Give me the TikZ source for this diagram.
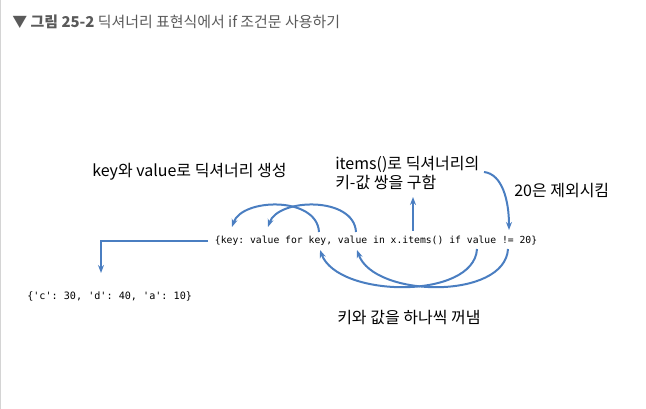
\documentclass[tikz,border=0pt]{standalone}
\usepackage{fontspec}
\setmainfont{Noto Sans CJK KR}
\setmonofont{DejaVu Sans Mono}
\usepackage{tikz}
\usetikzlibrary{arrows.meta, positioning, calc}
\definecolor{ArrowBlue}{RGB}{74,126,193}
\definecolor{TitleGray}{RGB}{90,90,90}
\definecolor{EdgeGray}{RGB}{212,212,212}

\begin{document}
\begin{tikzpicture}[x=0.75pt, y=-0.75pt,
    arr/.style={-{Stealth[length=6pt, width=4.5pt]}, ArrowBlue, line width=1.5pt},
    codetxt/.style={font=\fontsize{7.3}{9}\selectfont\ttfamily, inner ysep=0pt},
    note/.style={font=\fontsize{12}{14.25}\selectfont, inner sep=0pt,
                 anchor=west, align=left}]
  \useasboundingbox (0,0) rectangle (646,409);
  \draw[EdgeGray, line width=1.2pt] (0.6,0) -- (0.6,409);
  % title
  \node[anchor=west, inner sep=0pt, text=TitleGray,
        font=\fontsize{11.2}{13}\selectfont] (title) at (12,22)
        {\textbf{▼ 그림 25-2} 딕셔너리 표현식에서 if 조건문 사용하기};
  % code line and its result
  \node[codetxt, inner xsep=5pt, anchor=west] (code) at (208,241)
        {\{key: value for key, value in x.items() if value != 20\}};
  \node[codetxt, font=\fontsize{7.6}{9}\selectfont\ttfamily, inner xsep=0pt,
        anchor=west] (result) at (27,296) {\{'c': 30, 'd': 40, 'a': 10\}};
  % notes
  \node[note] (mkdict) at (92,172) {key와 value로 딕셔너리 생성};
  \node[note] (pairs) at (335,173.5) {items()로 딕셔너리의\\키-값 쌍을 구함};
  \node[note] (skip) at (514,191) {20은 제외시킴};
  \node[note] (takeout) at (337,318) {키와 값을 하나씩 꺼냄};
  % points on the code line
  \coordinate (keyA) at (232,227);
  \coordinate (valA) at (268,227);
  \coordinate (keyB) at (319,232);
  \coordinate (valB) at (356,232);
  \coordinate (keyBlow) at (320,250);
  \coordinate (valBlow) at (357,250);
  \coordinate (itemsTop) at (413,231);
  \coordinate (itemsTip) at (413,197);
  \coordinate (valC) at (477,249);
  \coordinate (neq) at (508,249);
  \coordinate (neqTop) at (509,230);
  \coordinate (pairsEnd) at (484,172);
  \coordinate (resTop) at (101,273);
  % arrows
  \draw[arr] (keyB) .. controls (317,196) and (242,198) .. (keyA);
  \draw[arr] (valB) .. controls (354,196) and (278,198) .. (valA);
  \draw[arr] (itemsTop) -- (itemsTip);
  \draw[arr] (pairsEnd) .. controls (502,174) and (509,200) .. (neqTop);
  \draw[arr] (valC) .. controls (474,300) and (338,298) .. (keyBlow);
  \draw[arr] (neq) .. controls (505,300) and (374,298) .. (valBlow);
  \draw[arr] (code.west) -| (resTop);
\end{tikzpicture}
\end{document}
